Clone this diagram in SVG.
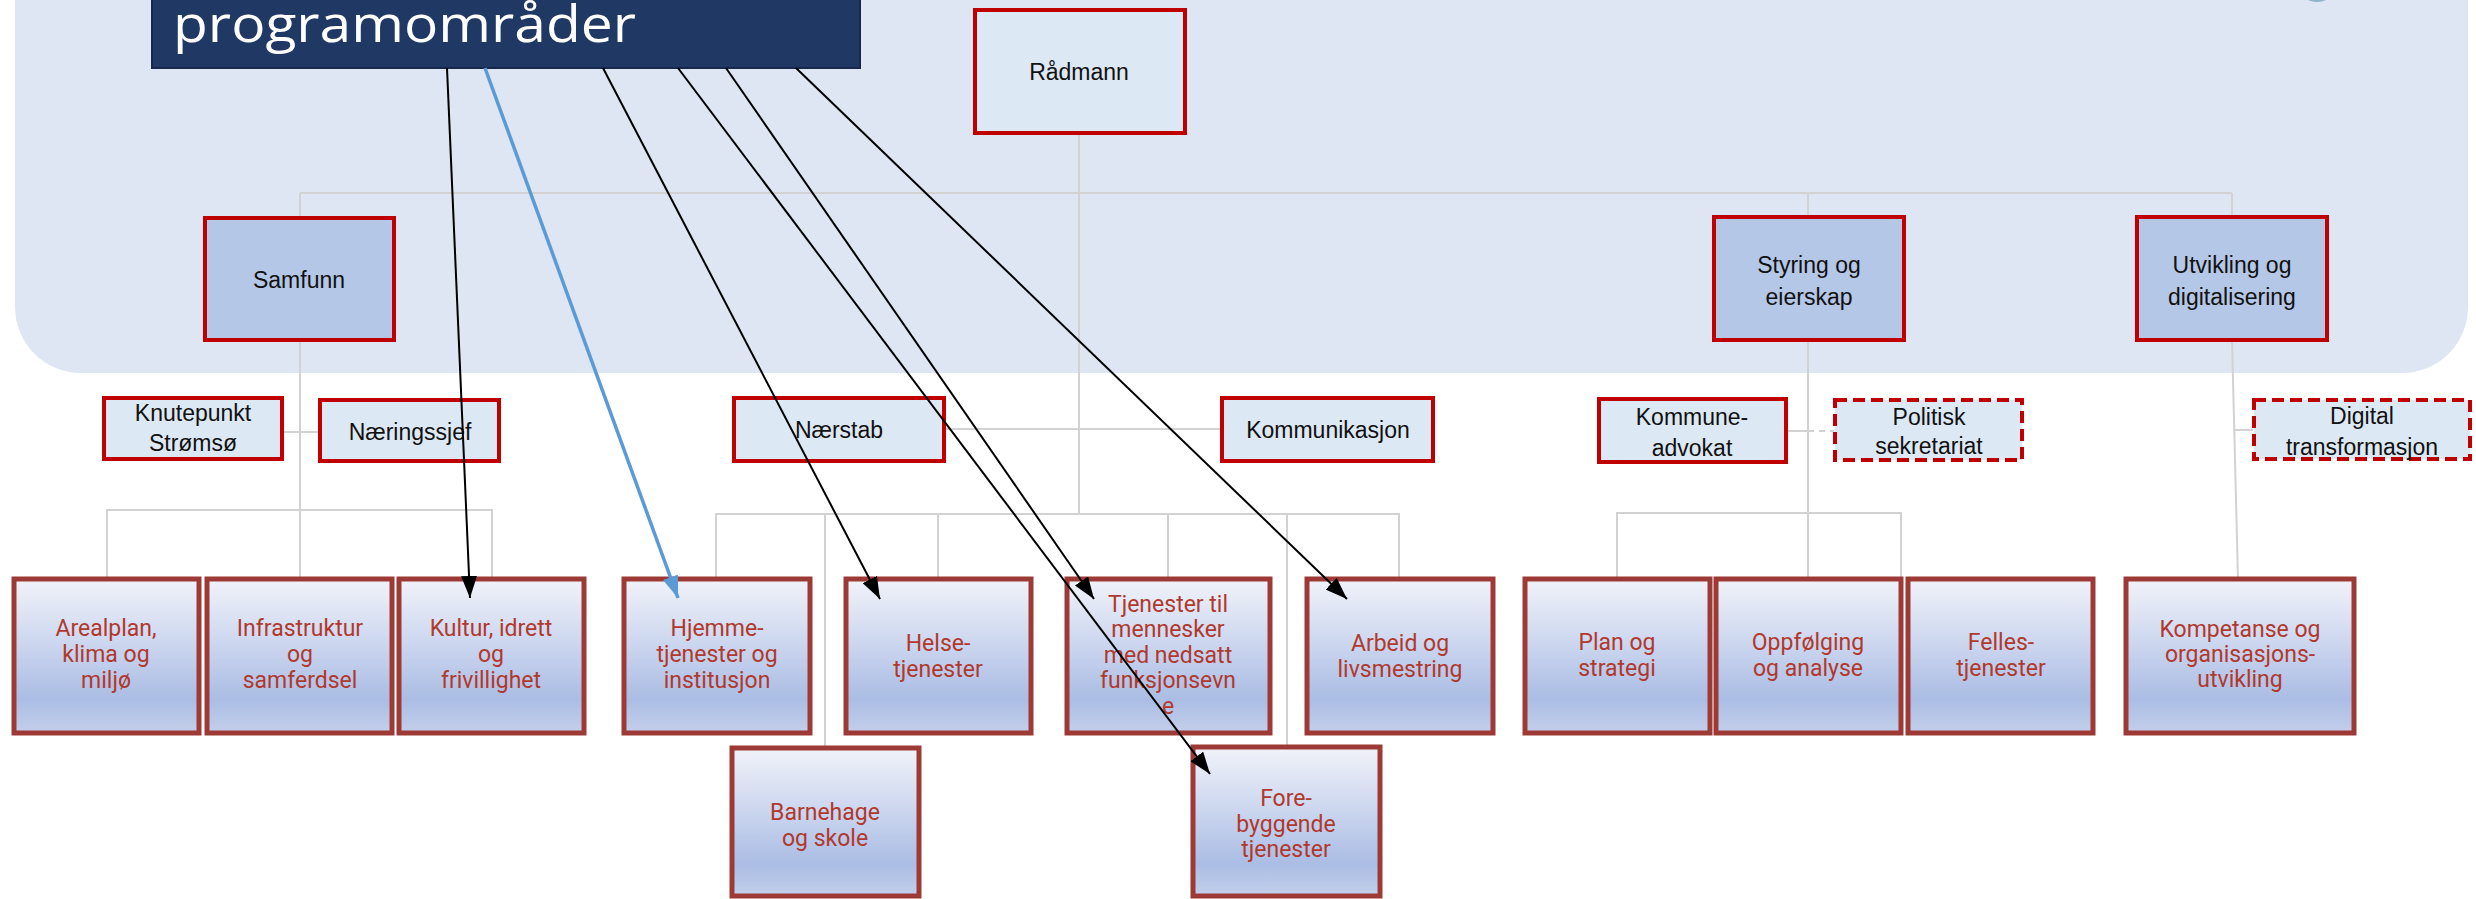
<svg xmlns="http://www.w3.org/2000/svg" width="2476" height="899" viewBox="0 0 2476 899">
<defs>
<linearGradient id="gBox" x1="0" y1="0" x2="0" y2="1">
<stop offset="0" stop-color="#f1f3f9"/>
<stop offset="0.45" stop-color="#c9d4ee"/>
<stop offset="0.78" stop-color="#abbde4"/>
<stop offset="1" stop-color="#c3cfeb"/>
</linearGradient>
<marker id="ab" viewBox="0 0 22 16" refX="22" refY="8" markerWidth="22" markerHeight="16" markerUnits="userSpaceOnUse" orient="auto"><path d="M0,0 L22,8 L0,16 z" fill="#000"/></marker>
<marker id="au" viewBox="0 0 22 16" refX="22" refY="8" markerWidth="22" markerHeight="16" markerUnits="userSpaceOnUse" orient="auto"><path d="M0,0 L22,8 L0,16 z" fill="#5b9bd5"/></marker>
</defs>
<style>
.top{fill:#dde8f5;stroke:#c00000;stroke-width:4}
.mid{fill:#b4c7e7;stroke:#c00000;stroke-width:4}
.dash{fill:#dde8f5;stroke:#c00000;stroke-width:4;stroke-dasharray:12 6}
.bot{fill:url(#gBox);stroke:#9e3a35;stroke-width:5}
.dt{font-family:"Liberation Sans",Arial,sans-serif;font-size:23px;fill:#111;text-anchor:middle}
.rt{font-family:Roboto,"Liberation Sans",sans-serif;font-size:23px;fill:#b0392e;text-anchor:middle}
.c{stroke:#d2d2d2;stroke-width:2;fill:none}
.ar{stroke:#000;stroke-width:2;fill:none;marker-end:url(#ab)}
.arb{stroke:#5b9bd5;stroke-width:3.5;fill:none;marker-end:url(#au)}
</style>
<rect x="0" y="0" width="2476" height="899" fill="#fff"/>
<rect x="15" y="-120" width="2453" height="493" rx="66" ry="66" fill="#dfe6f3"/>
<ellipse cx="2317" cy="-4" rx="12" ry="6" fill="#8db3c7"/>

<g id="connectors">
<path class="c" d="M1079,133 V514"/>
<path class="c" d="M300,193 H2232"/>
<path class="c" d="M300,193 V218 M300,340 V578"/>
<path class="c" d="M1808,193 V217 M1808,340 V579"/>
<path class="c" d="M2232,193 V217 M2232,340 L2238,579"/>
<path class="c" d="M282,432 H320"/>
<path class="c" d="M107,578 V510 H492 V578"/>
<path class="c" d="M944,429 H1222"/>
<path class="c" d="M716,578 V514 H1399 V578 M938,514 V578 M1168,514 V578 M825,514 V747 M1287,514 V746"/>
<path class="c" d="M1786,431 H1808"/>
<path class="c" d="M1808,431 H1834" stroke-dasharray="6 5"/>
<path class="c" d="M1617,579 V513 H1901 V579"/>
<path class="c" d="M2233,430 H2253"/>
</g>

<g id="raadmann"><rect class="top" x="975" y="10" width="210" height="123"/><text class="dt" x="1079" y="80">Rådmann</text></g>
<g id="samfunn"><rect class="mid" x="205" y="218" width="189" height="122"/><text class="dt" x="299" y="288">Samfunn</text></g>
<g id="styring"><rect class="mid" x="1714" y="217" width="190" height="123"/><text class="dt" x="1809" y="273">Styring og</text><text class="dt" x="1809" y="305">eierskap</text></g>
<g id="utvikling"><rect class="mid" x="2137" y="217" width="190" height="123"/><text class="dt" x="2232" y="273">Utvikling og</text><text class="dt" x="2232" y="305">digitalisering</text></g>

<g id="knutepunkt"><rect class="top" x="104" y="398" width="178" height="61"/><text class="dt" x="193" y="421">Knutepunkt</text><text class="dt" x="193" y="451">Strømsø</text></g>
<g id="naeringssjef"><rect class="top" x="320" y="400" width="179" height="61"/><text class="dt" x="410" y="440">Næringssjef</text></g>
<g id="naerstab"><rect class="top" x="734" y="398" width="210" height="63"/><text class="dt" x="839" y="438">Nærstab</text></g>
<g id="kommunikasjon"><rect class="top" x="1222" y="398" width="211" height="63"/><text class="dt" x="1328" y="438">Kommunikasjon</text></g>
<g id="kommuneadvokat"><rect class="top" x="1599" y="399" width="187" height="63"/><text class="dt" x="1692" y="425">Kommune-</text><text class="dt" x="1692" y="456">advokat</text></g>
<g id="politisk"><rect class="dash" x="1835" y="400" width="187" height="60"/><text class="dt" x="1929" y="425">Politisk</text><text class="dt" x="1929" y="454">sekretariat</text></g>
<g id="digital"><rect class="dash" x="2254" y="400" width="216" height="59"/><text class="dt" x="2362" y="424">Digital</text><text class="dt" x="2362" y="455">transformasjon</text></g>

<g id="arealplan"><rect class="bot" x="14" y="579" width="185" height="154"/><text class="rt" x="106" y="636">Arealplan,</text><text class="rt" x="106" y="662">klima og</text><text class="rt" x="106" y="688">miljø</text></g>
<g id="infrastruktur"><rect class="bot" x="207" y="579" width="185" height="154"/><text class="rt" x="300" y="636">Infrastruktur</text><text class="rt" x="300" y="662">og</text><text class="rt" x="300" y="688">samferdsel</text></g>
<g id="kultur"><rect class="bot" x="399" y="579" width="185" height="154"/><text class="rt" x="491" y="636">Kultur, idrett</text><text class="rt" x="491" y="662">og</text><text class="rt" x="491" y="688">frivillighet</text></g>
<g id="hjemme"><rect class="bot" x="624" y="579" width="186" height="154"/><text class="rt" x="717" y="636">Hjemme-</text><text class="rt" x="717" y="662">tjenester og</text><text class="rt" x="717" y="688">institusjon</text></g>
<g id="helse"><rect class="bot" x="846" y="579" width="185" height="154"/><text class="rt" x="938" y="651">Helse-</text><text class="rt" x="938" y="677">tjenester</text></g>
<g id="tjenester"><rect class="bot" x="1067" y="579" width="203" height="154"/><text class="rt" x="1168" y="612">Tjenester til</text><text class="rt" x="1168" y="637">mennesker</text><text class="rt" x="1168" y="663">med nedsatt</text><text class="rt" x="1168" y="688">funksjonsevn</text><text class="rt" x="1168" y="714">e</text></g>
<g id="arbeid"><rect class="bot" x="1307" y="579" width="186" height="154"/><text class="rt" x="1400" y="651">Arbeid og</text><text class="rt" x="1400" y="677">livsmestring</text></g>
<g id="plan"><rect class="bot" x="1525" y="579" width="185" height="154"/><text class="rt" x="1617" y="650">Plan og</text><text class="rt" x="1617" y="676">strategi</text></g>
<g id="oppfolging"><rect class="bot" x="1716" y="579" width="185" height="154"/><text class="rt" x="1808" y="650">Oppfølging</text><text class="rt" x="1808" y="676">og analyse</text></g>
<g id="felles"><rect class="bot" x="1908" y="579" width="185" height="154"/><text class="rt" x="2001" y="650">Felles-</text><text class="rt" x="2001" y="676">tjenester</text></g>
<g id="kompetanse"><rect class="bot" x="2126" y="579" width="228" height="154"/><text class="rt" x="2240" y="637">Kompetanse og</text><text class="rt" x="2240" y="662">organisasjons-</text><text class="rt" x="2240" y="687">utvikling</text></g>
<g id="barnehage"><rect class="bot" x="732" y="748" width="187" height="148"/><text class="rt" x="825" y="820">Barnehage</text><text class="rt" x="825" y="846">og skole</text></g>
<g id="forebyggende"><rect class="bot" x="1193" y="747" width="187" height="149"/><text class="rt" x="1286" y="806">Fore-</text><text class="rt" x="1286" y="832">byggende</text><text class="rt" x="1286" y="857">tjenester</text></g>

<g id="title"><rect x="152" y="-10" width="708" height="78" fill="#1f3864" stroke="#17294a" stroke-width="2"/><text x="173" y="42" font-family="'Open Sans','Liberation Sans',sans-serif" font-size="52" fill="#fff" textLength="463" lengthAdjust="spacingAndGlyphs">programområder</text></g>

<g id="arrows">
<path class="ar" d="M447,68 L470,598"/>
<path class="arb" d="M485,68 L678,598"/>
<path class="ar" d="M603,68 L880,599"/>
<path class="ar" d="M678,68 L1210,774"/>
<path class="ar" d="M726,68 L1094,599"/>
<path class="ar" d="M796,68 L1347,599"/>
</g>
</svg>
